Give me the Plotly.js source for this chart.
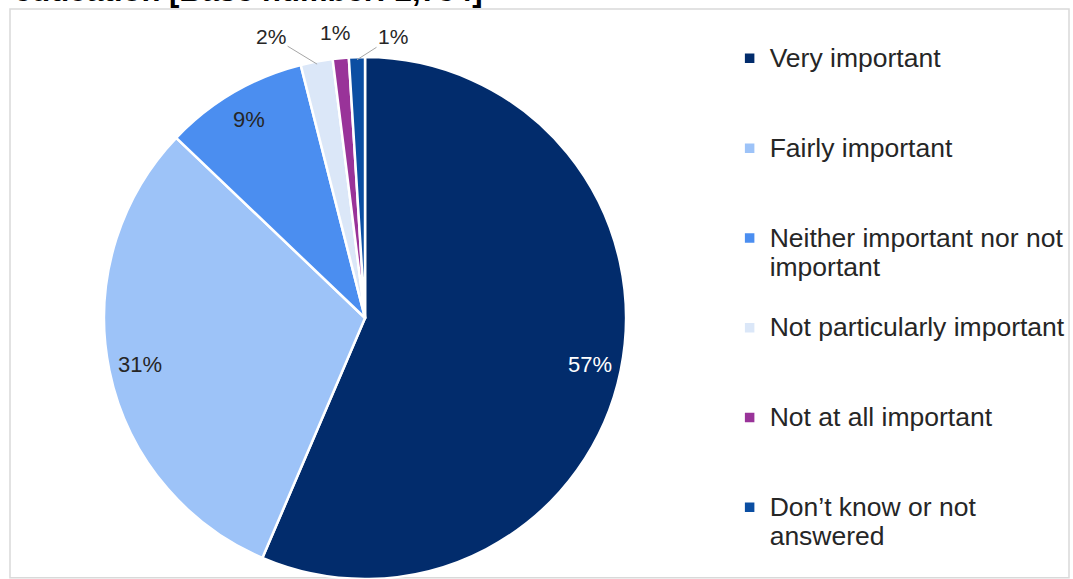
<!DOCTYPE html>
<html>
<head>
<meta charset="utf-8">
<script src="https://cdn.plot.ly/plotly-3.0.1.min.js"></script>
<style>html,body{margin:0;padding:0;background:#fff;} #chart{width:1073px;height:579px;}</style>
</head>
<body>
<div id="chart"></div>
<script>
const categories = [
  "Very important",
  "Fairly important",
  "Neither important nor not<br>important",
  "Not particularly important",
  "Not at all important",
  "Don\u2019t know or not<br>answered"
];
const values = [57, 31, 9, 2, 1, 1];
const colors = ["#022c6c", "#9dc3f8", "#4b8ef0", "#dbe7f8", "#993399", "#0b4ea2"];
const labelColors = ["#ffffff", "#262626", "#262626", "#262626", "#262626", "#262626"];
const titleText = "education [Base number: 2,754]";

const W = 1073, H = 579;
const FONT = "Liberation Sans, Arial, sans-serif";
const pieDomain = {x: [0.0951, 0.5853], y: [0, 0.9015]};

// legend entries: bigger glyphs in a span, padded to 3 lines for even spacing (last one unpadded)
const legendLabels = categories.map((c, i) => {
  const parts = c.split("<br>").map(p => "<span style='font-size:26.5px'>" + p + "</span>");
  if (i < categories.length - 1) {
    while (parts.length < 3) parts.push(" ");
  }
  return parts.join("<br>");
});

// pie geometry (pixels) derived from the domain
const dx0 = pieDomain.x[0] * W, dx1 = pieDomain.x[1] * W;
const dyTop = (1 - pieDomain.y[1]) * H, dyBot = (1 - pieDomain.y[0]) * H;
const R = Math.min(dx1 - dx0, dyBot - dyTop) / 2;
const CX = (dx0 + dx1) / 2, CY = (dyTop + dyBot) / 2;
const total = values.reduce((a, b) => a + b, 0);

// label placement style: inside labels at a fraction of radius, outside ones with leader lines
const insideFactor = 0.88;
const outsideOffsets = {3: [-46, -28, "#a6a6a6"], 4: [-6, -28, "rgba(0,0,0,0)"], 5: [36, -23, "#a6a6a6"]};

const annotations = [];
let cum = 0;
values.forEach((v, i) => {
  const mid = (cum + v / 2) / total * 2 * Math.PI;
  cum += v;
  const txt = v + "%";
  if (i < 3) {
    const px = CX + insideFactor * R * Math.sin(mid);
    const py = CY - insideFactor * R * Math.cos(mid);
    annotations.push({
      text: txt, xref: "paper", yref: "paper", x: px / W, y: 1 - py / H,
      xanchor: "center", yanchor: "middle",
      showarrow: false, font: {family: FONT, size: 22, color: labelColors[i]}
    });
  } else {
    const px = CX + 0.99 * R * Math.sin(mid);
    const py = CY - 0.99 * R * Math.cos(mid);
    const off = outsideOffsets[i];
    annotations.push({
      text: txt, xref: "paper", yref: "paper", x: px / W, y: 1 - py / H,
      showarrow: true, arrowhead: 0, arrowwidth: 1, arrowcolor: off[2],
      ax: off[0], ay: off[1], standoff: 0,
      font: {family: FONT, size: 21, color: labelColors[i]}
    });
  }
});

annotations.push({
  text: "<b>" + titleText + "</b>",
  xref: "paper", yref: "paper",
  x: 0.011, y: 1, xanchor: "left", yanchor: "bottom",
  yshift: -10.5,
  showarrow: false,
  font: {family: FONT, size: 31, color: "#000000"}
});

const trace = {
  type: "pie",
  labels: legendLabels,
  values: values,
  sort: false,
  direction: "clockwise",
  rotation: 0,
  marker: {colors: colors, line: {color: "#ffffff", width: 2.5}},
  textinfo: "none",
  domain: pieDomain,
  hoverinfo: "label+percent"
};

const layout = {
  width: W,
  height: H,
  margin: {l: 0, r: 0, t: 0, b: 0},
  paper_bgcolor: "#ffffff",
  showlegend: true,
  legend: {
    x: 0.680, xanchor: "left",
    y: 0.9354, yanchor: "top",
    valign: "top",
    font: {family: FONT, size: 22.25, color: "#262626"},
    bgcolor: "rgba(0,0,0,0)"
  },
  annotations: annotations,
  shapes: [{
    type: "rect", xref: "paper", yref: "paper",
    x0: 10 / W, x1: 1069 / W, y0: 0.002, y1: 1 - 9 / H,
    line: {color: "#d9d9d9", width: 1.5}, fillcolor: "rgba(0,0,0,0)", layer: "below"
  }]
};

Plotly.newPlot("chart", [trace], layout, {displayModeBar: false, staticPlot: true});
</script>
</body>
</html>
